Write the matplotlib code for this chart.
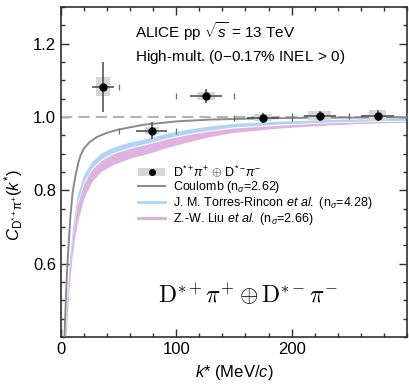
# D*pi femtoscopic correlation function with model comparisons
import numpy
import matplotlib
import matplotlib.backends.backend_agg
import matplotlib.figure
import matplotlib.patches
import matplotlib.lines
from matplotlib.font_manager import FontProperties

matplotlib.rcParams['font.family'] = ['Liberation Sans', 'DejaVu Sans']
matplotlib.rcParams['mathtext.fontset'] = 'custom'
matplotlib.rcParams['mathtext.rm'] = 'Liberation Sans'
matplotlib.rcParams['mathtext.it'] = 'Liberation Sans:italic'
matplotlib.rcParams['mathtext.bf'] = 'Liberation Sans:bold'

# measured points
k_star = [36.6, 78.6, 126.0, 175.0, 224.5, 274.5]
cf = [1.082, 0.963, 1.057, 0.998, 1.003, 1.004]
cf_stat = [0.068, 0.024, 0.020, 0.014, 0.013, 0.016]
k_err = [9.5, 13.5, 14.0, 14.0, 14.0, 14.0]
cf_syst = [0.026, 0.010, 0.010, 0.010, 0.012, 0.014]
k_syst = [6.0, 6.0, 8.0, 8.0, 10.0, 7.0]
bin_lo = [0, 50, 100, 150, 200, 250]
bin_hi = [50, 100, 150, 200, 250, 300]

# Coulomb-only expectation
k_coul = [3, 4, 5, 6, 8, 10, 12, 15, 17, 20, 25, 31.5, 40, 49, 60, 72, 100, 130, 170, 220, 300]
cf_coul = [0.40, 0.48, 0.56, 0.62, 0.72, 0.79, 0.83, 0.875, 0.895, 0.915, 0.932, 0.946,
           0.957, 0.965, 0.972, 0.979, 0.988, 0.993, 0.996, 0.998, 0.999]

# model bands
k_th = [3.5, 5, 7, 10, 14, 20, 27, 35, 45, 60, 75, 90, 110, 130, 150, 190, 230, 265, 300]
tr_hi = [0.40, 0.50, 0.60, 0.70, 0.785, 0.845, 0.88, 0.902, 0.918, 0.932, 0.942, 0.955,
         0.967, 0.976, 0.983, 0.989, 0.993, 0.995, 0.997]
tr_lo = [0.38, 0.48, 0.58, 0.68, 0.765, 0.825, 0.862, 0.886, 0.903, 0.918, 0.929, 0.942,
         0.955, 0.965, 0.973, 0.981, 0.986, 0.989, 0.991]
liu_hi = [0.38, 0.475, 0.575, 0.675, 0.76, 0.82, 0.858, 0.882, 0.900, 0.915, 0.926, 0.939,
          0.952, 0.962, 0.970, 0.978, 0.984, 0.987, 0.989]
liu_lo = [0.34, 0.43, 0.53, 0.63, 0.71, 0.78, 0.825, 0.852, 0.870, 0.888, 0.900, 0.915,
          0.932, 0.947, 0.958, 0.970, 0.978, 0.983, 0.986]

fig = matplotlib.figure.Figure(figsize=(4.09, 3.84), dpi=100)
canvas = matplotlib.backends.backend_agg.FigureCanvasAgg(fig)
ax = fig.add_axes([0.149, 0.122, 0.846, 0.860])

ax.set_xlim(0, 300)
ax.set_ylim(0.4, 1.3)

c_blue = '#b0d5f4'
c_pink = '#dcaadc'
ax.fill_between(k_th, tr_lo, tr_hi, color=c_blue, lw=0, zorder=1)
ax.fill_between(k_th, liu_lo, liu_hi, color=c_pink, lw=0, alpha=0.9, zorder=2)
ax.plot(k_coul, cf_coul, color='#8a8a8a', lw=1.4, zorder=3)
ax.axhline(1.0, color='#b4b4b4', lw=1.5, dashes=(5.5, 2.8), zorder=2.5)

# systematic boxes
for x, y, dx, dy in zip(k_star, cf, k_syst, cf_syst):
    ax.add_patch(matplotlib.patches.Rectangle((x - dx, y - dy), 2 * dx, 2 * dy,
                                              facecolor='#d6d6d6', edgecolor='none', zorder=4))
# bin edges
for lo, hi, y in zip(bin_lo, bin_hi, cf):
    ax.plot([lo, hi], [y, y], linestyle='None', marker='|', markersize=4,
            markeredgewidth=0.9, color='#707070', zorder=4)
ax.errorbar(k_star, cf, xerr=k_err, yerr=cf_stat, fmt='o', color='black',
            ecolor='#555555', elinewidth=1.2, capsize=0, markersize=5, zorder=5)

ax.tick_params(which='both', direction='in', top=True, right=True, colors='#303030',
               labelcolor='black', labelsize=12)
ax.tick_params(which='major', length=6, width=1.0)
ax.tick_params(which='minor', length=3, width=1.0)
ax.set_xticks([0, 100, 200])
ax.set_xticks(numpy.arange(0, 301, 20), minor=True)
ax.set_yticks([0.6, 0.8, 1.0, 1.2])
ax.set_yticks(numpy.arange(0.4, 1.301, 0.05), minor=True)
ax.set_yticklabels(['0.6', '0.8', '1.0', '1.2'])
for sp in ax.spines.values():
    sp.set_color('#303030')
    sp.set_linewidth(1.2)

ax.set_xlabel(r'$k$* (MeV/$c$)', fontsize=12)
ax.set_ylabel(r'$C_{\mathrm{D^{*+}\pi^{+}}}(k^{*})$', fontsize=12)
ax.yaxis.set_label_coords(-0.105, 0.40)

ax.text(0.214, 0.925, r'ALICE pp $\sqrt{s}$ = 13 TeV', transform=ax.transAxes,
        fontsize=11, va='center')
ax.text(0.214, 0.848, r'High-mult. (0$-$0.17% INEL$\,>\,$0)', transform=ax.transAxes,
        fontsize=11, va='center')

big_font = FontProperties(size=17, math_fontfamily='cm')
ax.text(0.54, 0.127, r'$\mathrm{D}^{*+}\pi^{+}\oplus\mathrm{D}^{*-}\pi^{-}$',
        transform=ax.transAxes, ha='center', va='center', fontproperties=big_font)

# legend
h_data = (matplotlib.patches.Patch(facecolor='#d6d6d6', edgecolor='none'),
          matplotlib.lines.Line2D([], [], linestyle='None', marker='o', color='black', markersize=4))
h_coul = matplotlib.lines.Line2D([], [], color='#8a8a8a', lw=1.4)
h_tr = matplotlib.lines.Line2D([], [], color=c_blue, lw=2)
h_liu = matplotlib.lines.Line2D([], [], color=c_pink, lw=2)
labels = [r'D$^{*+}\pi^{+}$ $\oplus$ D$^{*-}\pi^{-}$',
          r'Coulomb (n$_{\sigma}$=2.62)',
          r'J. M. Torres-Rincon $et\ al.$ (n$_{\sigma}$=4.28)',
          r'Z.-W. Liu $et\ al.$ (n$_{\sigma}$=2.66)']
ax.legend([h_data, h_coul, h_tr, h_liu], labels, loc='upper left',
          bbox_to_anchor=(0.222, 0.525), frameon=False, fontsize=9,
          handlelength=2.2, handleheight=0.6, labelspacing=0.0, handletextpad=0.6,
          borderpad=0.0, borderaxespad=0.0)

fig.savefig('out.png', dpi=100)
